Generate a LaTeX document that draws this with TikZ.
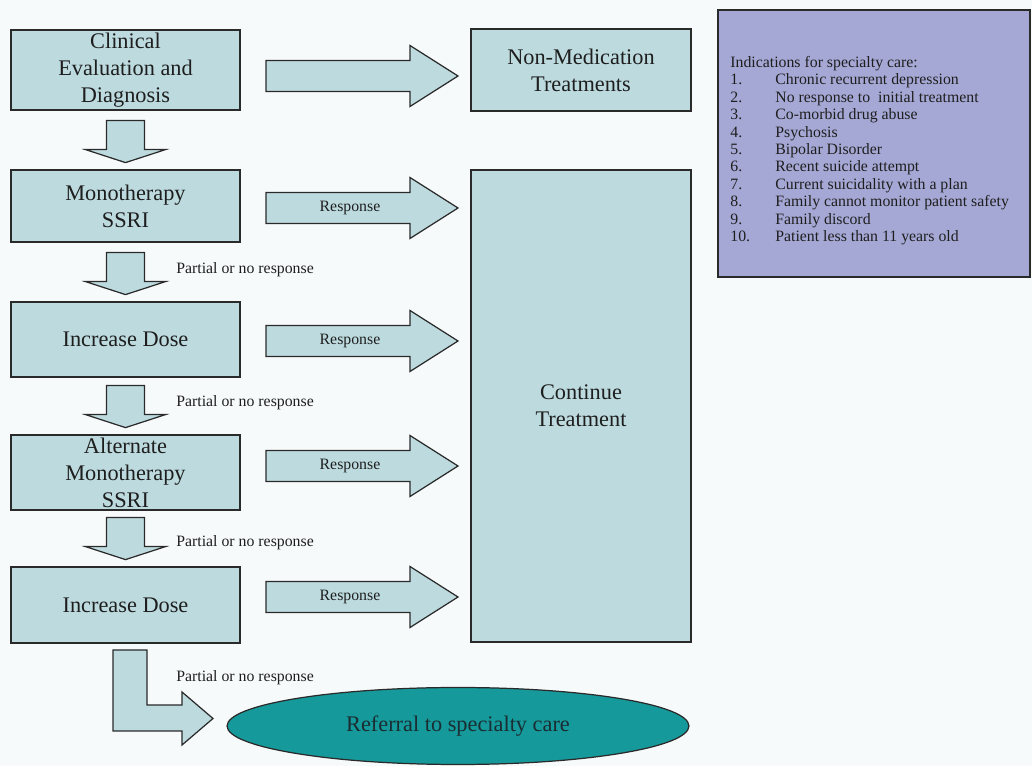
\documentclass[tikz,border=0pt]{standalone}
\usepackage{fontspec}
\setmainfont{Liberation Serif}
\usetikzlibrary{calc,shapes.geometric}
\definecolor{bg}{HTML}{F7FAFB}
\definecolor{boxc}{HTML}{BDDBDF}
\definecolor{edgec}{HTML}{2A2A2A}
\definecolor{lav}{HTML}{A5A8D5}
\definecolor{tealc}{HTML}{16999A}
\definecolor{txt}{HTML}{1E1E1E}
\begin{document}
\begin{tikzpicture}[x=0.02cm,y=-0.02cm,
  box/.style={draw=edgec,fill=boxc,line width=0.7pt,align=center,text=txt,
    font=\fontsize{12.7}{15.3}\selectfont,inner sep=0pt,minimum width=4.58cm},
  rbox/.style={box,minimum width=4.4cm},
  blk/.style={draw=edgec,fill=boxc,line width=0.7pt,line join=miter},
  small/.style={font=\fontsize{9}{10}\selectfont,text=txt,inner sep=0pt},
  rarr/.pic={\path[blk] (0,-15.5) -- (144,-15.5) -- (144,-30.5) -- (192,0) -- (144,30.5) -- (144,15.5) -- (0,15.5) -- cycle;},
  darr/.pic={\path[blk] (-19,0) -- (19,0) -- (19,29) -- (40,29) -- (0,42) -- (-40,29) -- (-19,29) -- cycle;}]
\fill[bg] (0,0) rectangle (1032,766);
\useasboundingbox (0,0) rectangle (1032,766);

% left column boxes
\node[box,minimum height=1.6cm] (clin) at (125.5,70) {Clinical\\Evaluation and\\Diagnosis};
\node[box,minimum height=1.44cm] (mono) at (125.5,206) {Monotherapy\\SSRI};
\node[box,minimum height=1.5cm] (inc1) at (125.5,339.5) {Increase Dose};
\node[box,minimum height=1.5cm] (alt) at (125.5,472.5) {Alternate\\Monotherapy\\SSRI};
\node[box,minimum height=1.52cm] (inc2) at (125.5,605) {Increase Dose};

% right column boxes
\node[rbox,minimum height=1.64cm] (nonmed) at (581,70) {Non-Medication\\Treatments};
\node[rbox,minimum height=9.44cm] (cont) at (581,406) {Continue\\Treatment};

% indications box
\node[draw=edgec,fill=lav,line width=0.7pt,minimum width=6.24cm,minimum height=5.34cm,inner sep=0pt] (ind) at (874,143.5) {};
\node[anchor=north west,inner sep=0pt,text=txt,font=\fontsize{9}{9.9}\selectfont] (indtxt) at (730,55) {%
\begin{tabular}{@{}p{0.9cm}@{}l@{}}
\multicolumn{2}{@{}l@{}}{Indications for specialty care:}\\
1. & Chronic recurrent depression\\
2. & No response to\ \ initial treatment\\
3. & Co-morbid drug abuse\\
4. & Psychosis\\
5. & Bipolar Disorder\\
6. & Recent suicide attempt\\
7. & Current suicidality with a plan\\
8. & Family cannot monitor patient safety\\
9. & Family discord\\
10. & Patient less than 11 years old
\end{tabular}};

% referral ellipse
\node[ellipse,draw=edgec,fill=tealc,line width=0.7pt,minimum width=9.24cm,minimum height=1.54cm,inner sep=0pt,
  text={rgb,255:red,25;green,45;blue,50},font=\fontsize{12.7}{15.3}\selectfont] (refer) at (458,726) {Referral to specialty care};

% right block arrows
\pic at (266,76) {rarr};
\pic at (266,208) {rarr};
\node[small] (resp2) at (350,208) {Response};
\pic at (266,341) {rarr};
\node[small] (resp3) at (350,341) {Response};
\pic at (266,466) {rarr};
\node[small] (resp4) at (350,466) {Response};
\pic at (266,597) {rarr};
\node[small] (resp5) at (350,597) {Response};

% down block arrows
\pic at ($(clin.south)+(0,10)$) {darr};
\pic at ($(mono.south)+(0,10)$) {darr};
\pic at ($(inc1.south)+(0,8)$) {darr};
\pic at ($(alt.south)+(0,7)$) {darr};

% L-shaped arrow to referral
\path[blk] (113,650) -- (147,650) -- (147,705) -- (182,705) -- (182,692) -- (213,718.5) -- (182,745) -- (182,731) -- (113,731) -- cycle;

% partial labels
\node[small,anchor=west] (p1) at (176,270) {Partial or no response};
\node[small,anchor=west] (p2) at (176,403) {Partial or no response};
\node[small,anchor=west] (p3) at (176,543) {Partial or no response};
\node[small,anchor=west] (p4) at (176,678) {Partial or no response};
\end{tikzpicture}
\end{document}
